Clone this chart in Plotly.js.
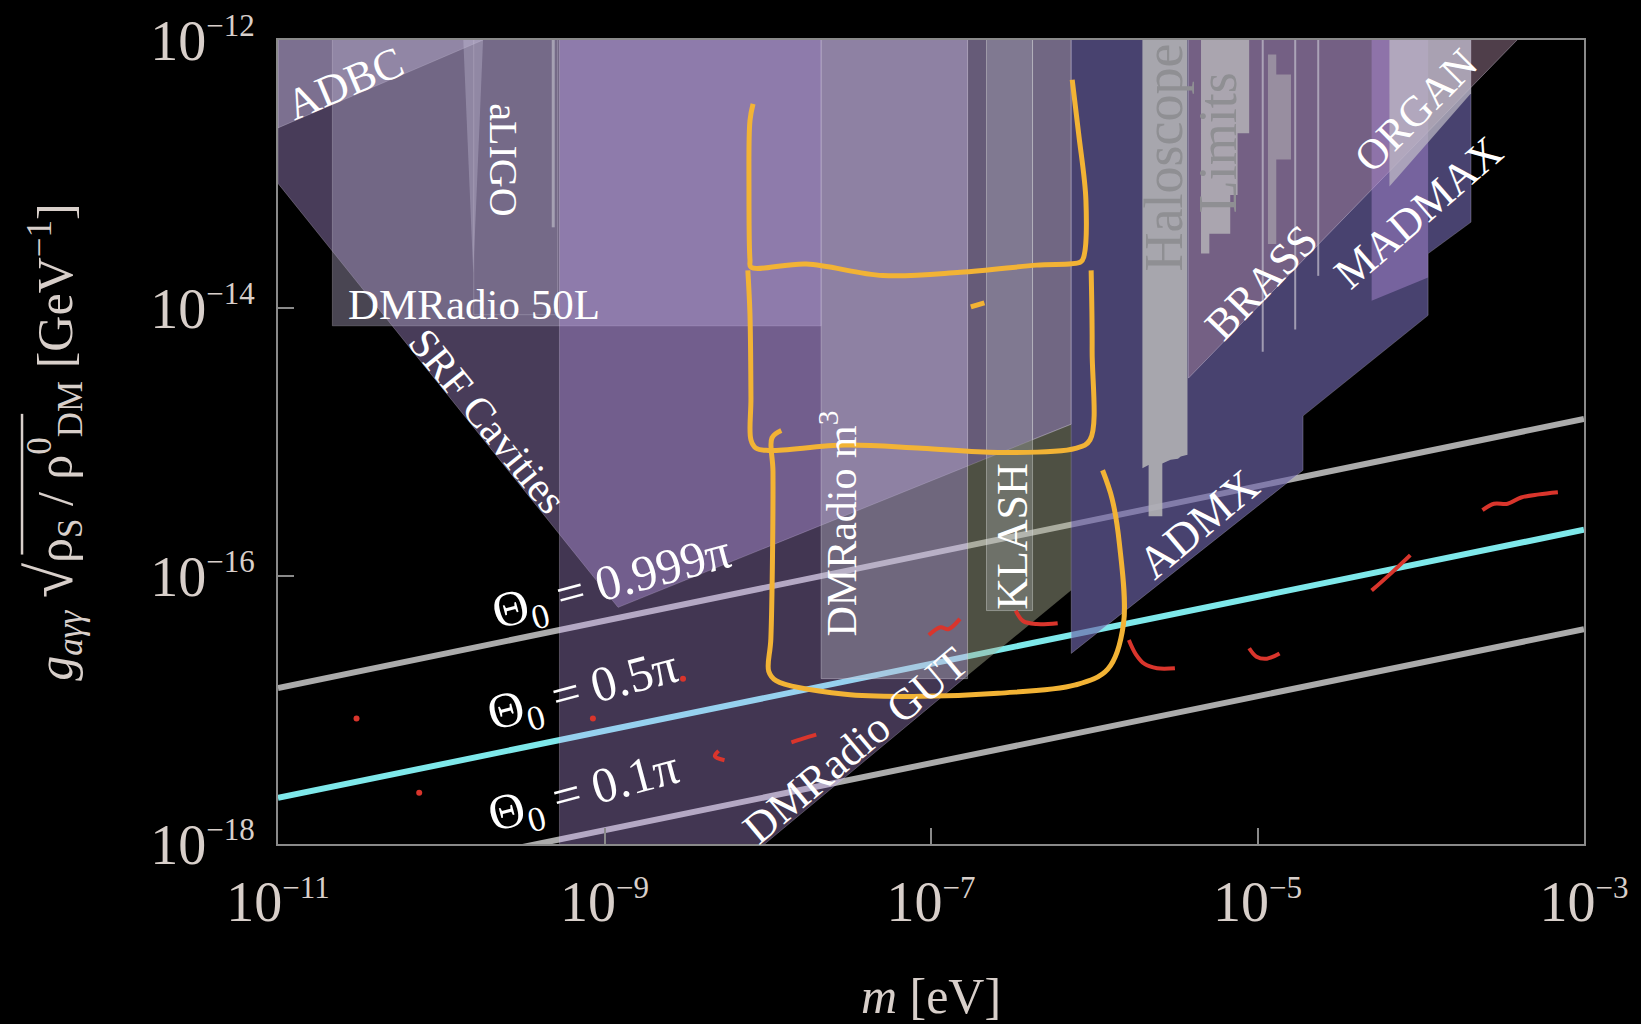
<!DOCTYPE html>
<html>
<head>
<meta charset="utf-8">
<script src="https://cdn.plot.ly/plotly-3.0.1.min.js"></script>
<style>
  html, body { margin: 0; padding: 0; background: #000; }
  #plot { width: 1641px; height: 1024px; }
</style>
</head>
<body>
<div id="plot"></div>
<script>
// All coordinates below are log10 values: m in eV (x), g*sqrt(rho_S/rho_DM) in GeV^-1 (y).

// Axis ticks
const tickM = [-11, -9, -7, -5, -3];
const tickMText = ['−11', '−9', '−7', '−5', '−3'];
const tickG = [-18, -16, -14, -12];
const tickGText = ['−18', '−16', '−14', '−12'];

// Theta_0 reference lines (g ∝ m^(1/4))
const thetaM = [-11, -3];
const theta999G = [-16.836, -14.828];
const theta05G = [-17.656, -15.655];
const theta01G = [-18.397, -16.397];

// Exclusion / projection regions
const srfM = [-11, -11, -8.917, -6.141, -6.141];
const srfG = [-12, -13.070, -16.234, -14.867, -12];

const adbcM = [-11, -11, -9.744];
const adbcG = [-12, -12.656, -12];

const dm50M = [-10.667, -10.667, -7.673, -7.673];
const dm50G = [-12, -14.133, -14.133, -12];

const aligoM = [-9.801, -9.801, -9.288, -9.288];
const aligoG = [-12, -14.05, -14.05, -12];
const aligoSpikeM = [-9.865, -9.804, -9.744];
const aligoSpikeG = [-12, -13.742, -12];
const aligoEdgeM = [-9.314, -9.314];
const aligoEdgeG = [-12, -13.398];

const gutM = [-9.276, -9.276, -8.019, -6.776, -6.776];
const gutG = [-12, -18.3, -18, -16.742, -12];

const dmm3M = [-7.673, -7.673, -6.776, -6.776];
const dmm3G = [-12, -16.766, -16.766, -12];

// KLASH band: upper part above the SRF edge, lower part down to the GUT edge
const klashUpM = [-6.776, -6.776, -6.141, -6.141];
const klashUpG = [-12, -15.180, -14.867, -12];
const klashLowM = [-6.776, -6.776, -6.141, -6.141];
const klashLowG = [-15.180, -16.742, -16.107, -14.867];
const klashStripM = [-6.378, -6.378, -6.141, -6.141];
const klashStripG = [-12, -14.982, -14.867, -12];

const klashM = [-6.660, -6.660, -6.378, -6.378];
const klashG = [-12, -16.258, -16.258, -12];

const admxM = [-6.141, -6.141, -4.721, -4.721, -3.955, -3.955, -3.692, -3.692];
const admxG = [-12, -16.578, -15.211, -14.805, -14.055, -13.594, -13.359, -12];

const brassM = [-5.423, -5.423, -3.410];
const brassG = [-12, -14.523, -12];

const haloM = [-5.705, -5.429, -5.429, -5.470, -5.487, -5.532, -5.560, -5.583, -5.583, -5.667, -5.667, -5.690, -5.705];
const haloG = [-12, -12, -15.095, -15.109, -15.125, -15.133, -15.148, -15.160, -15.555, -15.555, -15.172, -15.188, -15.195];

const limitsM = [-5.346, -5.051, -5.051, -5.122, -5.122, -5.167, -5.167, -5.295, -5.295, -5.346];
const limitsG = [-12, -12, -12.695, -12.695, -13.156, -13.156, -13.445, -13.445, -13.594, -13.594];

const limits2M = [-4.936, -4.885, -4.885, -4.795, -4.795, -4.885, -4.885, -4.936];
const limits2G = [-12.109, -12.109, -12.258, -12.258, -12.891, -12.891, -13.523, -13.523];

const haloLineM = [-4.968, -4.769, -4.628];
const haloLineEndG = [-14.327, -14.160, -13.760];

const madmaxM = [-4.301, -4.301, -3.955, -3.955];
const madmaxG = [-12, -13.945, -13.773, -12];

const organM = [-4.192, -4.192, -3.692, -3.692];
const organG = [-12, -13.094, -12.398, -12];

// Hand-drawn highlight strokes
const hlUpperM = [-8.090, -8.109, -8.115, -8.109, -8.103, -7.763, -7.295, -6.821, -6.353, -6.083, -6.064, -6.051, -6.096, -6.135];
const hlUpperG = [-12.477, -12.602, -13.109, -13.641, -13.695, -13.672, -13.758, -13.734, -13.680, -13.656, -13.617, -13.195, -12.695, -12.297];
const hlMiddleM = [-8.122, -8.109, -8.103, -8.103, -8.071, -7.994, -7.526, -7.058, -6.590, -6.115, -6.026, -6.013, -6.019];
const hlMiddleG = [-13.719, -14.047, -14.672, -14.984, -15.047, -15.063, -15.023, -15.047, -15.078, -15.047, -14.984, -14.313, -13.719];
const hlDashM = [-6.756, -6.673];
const hlDashG = [-13.992, -13.961];
const hlLowerM = [-7.917, -7.974, -7.968, -7.981, -7.994, -7.949, -7.526, -7.058, -6.590, -6.115, -5.917, -5.821, -5.846, -5.891, -5.949];
const hlLowerG = [-14.914, -14.969, -15.219, -16.469, -16.711, -16.781, -16.883, -16.898, -16.875, -16.813, -16.695, -16.359, -15.758, -15.422, -15.211];

const redDotM = [-10.519, -10.135, -9.071, -8.519];
const redDotG = [-17.063, -17.617, -17.063, -16.766];
const redStrokes = [
  { m: [-8.301, -8.324, -8.265], g: [-17.305, -17.344, -17.375] },
  { m: [-7.855, -7.785, -7.703], g: [-17.242, -17.214, -17.184] },
  { m: [-7.013, -6.942, -6.894, -6.823], g: [-16.441, -16.383, -16.397, -16.320] },
  { m: [-6.481, -6.436, -6.353, -6.224], g: [-16.258, -16.336, -16.359, -16.352] },
  { m: [-5.788, -5.744, -5.692, -5.615, -5.506], g: [-16.477, -16.586, -16.656, -16.688, -16.688] },
  { m: [-5.051, -5.006, -4.942, -4.865], g: [-16.539, -16.602, -16.617, -16.578] },
  { m: [-4.301, -4.186, -4.064], g: [-16.109, -15.984, -15.844] },
  { m: [-3.622, -3.551, -3.468, -3.385, -3.276, -3.160], g: [-15.508, -15.461, -15.461, -15.414, -15.391, -15.375] }
];

const P = v => Math.pow(10, v);
const lin = arr => arr.map(P);

const traces = [];

function line(m, g, color, width, shape) {
  traces.push({
    type: 'scatter', mode: 'lines', x: lin(m), y: lin(g),
    line: { color: color, width: width, shape: shape || 'linear' },
    hoverinfo: 'skip', showlegend: false
  });
}
function region(m, g, fill, edge) {
  traces.push({
    type: 'scatter', mode: 'lines', x: lin(m), y: lin(g),
    fill: 'toself', fillcolor: fill,
    line: { color: edge || 'rgba(230,225,240,0.25)', width: 1 },
    hoverinfo: 'skip', showlegend: false
  });
}

// reference lines sit under the translucent regions
line(thetaM, theta999G, '#ababab', 6);
line(thetaM, theta05G, '#7ee8ea', 6);
line(thetaM, theta01G, '#ababab', 6);

const NOEDGE = 'rgba(0,0,0,0)';
region(srfM, srfG, 'rgba(150,125,185,0.48)');
region(adbcM, adbcG, 'rgba(215,205,240,0.36)');
region(dm50M, dm50G, 'rgba(175,165,195,0.42)');
region(aligoM, aligoG, 'rgba(205,200,220,0.04)', 'rgba(220,215,230,0.25)');
region(aligoSpikeM, aligoSpikeG, 'rgba(205,200,225,0.32)', NOEDGE);
line(aligoEdgeM, aligoEdgeG, 'rgba(205,205,215,0.55)', 3);
region(gutM, gutG, 'rgba(200,165,250,0.33)');
region(dmm3M, dmm3G, 'rgba(192,190,202,0.36)', 'rgba(225,222,235,0.35)');
region(klashUpM, klashUpG, 'rgba(160,150,178,0.35)', NOEDGE);
region(klashLowM, klashLowG, 'rgba(170,175,145,0.46)', NOEDGE);
region(klashStripM, klashStripG, 'rgba(200,195,215,0.12)', 'rgba(220,215,230,0.3)');
region(klashM, klashG, 'rgba(205,208,215,0.26)', 'rgba(225,228,225,0.4)');
region(admxM, admxG, 'rgba(110,100,168,0.66)');
region(brassM, brassG, 'rgba(165,130,155,0.48)', 'rgba(215,205,225,0.4)');
region(haloM, haloG, 'rgba(180,180,182,0.88)', NOEDGE);
region(limitsM, limitsG, 'rgba(182,180,184,0.82)', NOEDGE);
region(limits2M, limits2G, 'rgba(182,180,184,0.55)', NOEDGE);
haloLineM.forEach((m, i) => line([m, m], [-12, haloLineEndG[i]], 'rgba(190,185,200,0.75)', 2));
region(madmaxM, madmaxG, 'rgba(175,140,215,0.45)', NOEDGE);
region(organM, organG, 'rgba(192,190,198,0.70)', NOEDGE);

// hand-drawn strokes
const YEL = '#f2b335', RED = '#d9352c';
line(hlUpperM, hlUpperG, YEL, 5, 'spline');
line(hlMiddleM, hlMiddleG, YEL, 5, 'spline');
line(hlDashM, hlDashG, YEL, 5);
line(hlLowerM, hlLowerG, YEL, 5, 'spline');
redStrokes.forEach(s => line(s.m, s.g, RED, 4, 'spline'));
traces.push({
  type: 'scatter', mode: 'markers', x: lin(redDotM), y: lin(redDotG),
  marker: { color: RED, size: 6 }, hoverinfo: 'skip', showlegend: false
});

const SERIF = 'Liberation Serif, DejaVu Serif, serif';
const TICK = '#d8cfca';

function lab(text, m, g, angle, size, color) {
  return {
    text: text, x: m, y: g, xref: 'x', yref: 'y', showarrow: false,
    textangle: angle, xanchor: 'center', yanchor: 'middle',
    font: { family: SERIF, size: size, color: color || '#ffffff' }
  };
}

const annotations = [
  lab('ADBC', -10.590, -12.328, -23, 44),
  lab('aLIGO', -9.615, -12.891, 90, 40),
  lab('DMRadio 50L', -9.801, -13.977, 0, 43),
  lab('SRF Cavities', -9.718, -14.844, 51, 42),
  lab('DMRadio m<sup>3</sup>', -7.564, -15.609, -90, 42),
  lab('KLASH', -6.5, -15.703, -90, 44),
  lab('DMRadio GUT', -7.462, -17.266, -40, 44),
  lab('ADMX', -5.359, -15.609, -40, 46),
  lab('Haloscope', -5.571, -12.875, -90, 54, '#8f8f93'),
  lab('Limits', -5.244, -12.766, -90, 54, '#8f8f93'),
  lab('BRASS', -4.974, -13.8125, -46, 44),
  lab('ORGAN', -4.032, -12.523, -45, 43),
  lab('MADMAX', -4.013, -13.289, -41, 44),
  lab('Θ<sub>0</sub> = 0.999π', -8.95, -16.07, -15, 50),
  lab('Θ<sub>0</sub> = 0.5π', -9.13, -16.87, -15, 50),
  lab('Θ<sub>0</sub> = 0.1π', -9.12, -17.63, -15, 50)
];

const supText = t => '10<sup><span style="font-size:31px">' + t + '</span></sup>';

const axisCommon = {
  type: 'log', showgrid: false, zeroline: false,
  showline: true, linecolor: '#8a8a8a', linewidth: 2, mirror: true,
  ticks: 'inside', ticklen: 16, tickwidth: 2, tickcolor: '#8a8a8a',
  tickfont: { family: SERIF, size: 56, color: TICK },
  automargin: false
};

const layout = {
  width: 1641, height: 1024,
  paper_bgcolor: '#000000', plot_bgcolor: '#000000',
  margin: { l: 278, r: 57, t: 40, b: 180 },
  showlegend: false,
  xaxis: Object.assign({}, axisCommon, {
    range: [-11, -3],
    tickvals: lin(tickM), ticktext: tickMText.map(supText),
    ticklabelstandoff: 8,
    title: { text: '<i>m</i> [eV]', font: { family: SERIF, size: 50, color: TICK }, standoff: 52 }
  }),
  yaxis: Object.assign({}, axisCommon, {
    range: [-18, -12],
    tickvals: lin(tickG), ticktext: tickGText.map(supText),
    ticklabelstandoff: 10,
    title: {
      text: '<i>g</i><sub><i>aγγ</i></sub> <span style="font-size:64px">√</span>ρ<sub>S</sub> / ρ<sup>0</sup><sub>DM</sub> [GeV<sup>−1</sup>]',
      font: { family: SERIF, size: 50, color: TICK }, standoff: 62
    }
  }),
  // bar of the square-root sign over ρ_S / ρ_DM in the y title
  shapes: [{
    type: 'line', xref: 'paper', yref: 'paper',
    x0: -0.196, x1: -0.196, y0: 0.360, y1: 0.535,
    line: { color: TICK, width: 2.5 }
  }],
  annotations: annotations
};

Plotly.newPlot('plot', traces, layout, { staticPlot: true });
</script>
</body>
</html>
